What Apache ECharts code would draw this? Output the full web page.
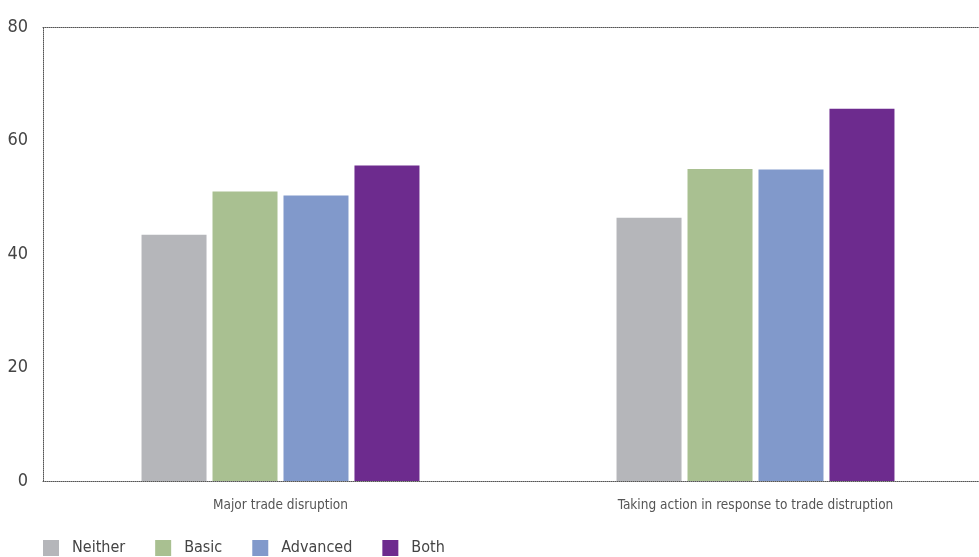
<!DOCTYPE html>
<html><head><meta charset="utf-8">
<script src="https://cdn.jsdelivr.net/npm/echarts@6/dist/echarts.min.js"></script>
<style>html,body{margin:0;padding:0;background:#fff}#c{width:979px;height:557px}</style>
</head><body><div id="c"></div>
<script>
const categories = ['Major trade disruption', 'Taking action in response to trade distruption'];
const seriesNames = ['Neither', 'Basic', 'Advanced', 'Both'];
const neither = [43.4, 46.4];
const basic = [51.0, 55.0];
const advanced = [50.3, 54.9];
const both = [55.6, 65.6];
const yTicks = [0, 20, 40, 60, 80];
const colors = ['#b5b6ba', '#a9c091', '#8199cb', '#6d2b8e'];
const values = [neither, basic, advanced, both];
const FONT = "'DejaVu Sans Condensed', 'Liberation Sans Narrow', sans-serif";

const chart = echarts.init(document.getElementById('c'), null, {renderer: 'canvas'});
chart.setOption({
  animation: false,
  color: colors,
  grid: {left: 43, top: 27, width: 950, height: 454, containLabel: false, outerBoundsMode: 'none'},
  legend: {
    left: 38, top: 535, itemWidth: 16, itemHeight: 16, itemGap: 30, icon: 'rect',
    textStyle: {fontFamily: FONT, fontSize: 16, color: '#444', padding: [0, 0, 0, 8]},
    data: seriesNames
  },
  xAxis: [{
    type: 'category', data: categories,
    axisLine: {lineStyle: {color: '#555', type: [1, 1], width: 1}},
    axisTick: {show: false},
    axisLabel: {fontFamily: FONT, fontSize: 13.5, color: '#555', margin: 17}
  }, {
    type: 'category', position: 'top', data: categories,
    axisLine: {lineStyle: {color: '#555', type: [1, 1], width: 1}},
    axisTick: {show: false}, axisLabel: {show: false}
  }],
  yAxis: {
    type: 'value', min: yTicks[0], max: yTicks[yTicks.length - 1], interval: 20,
    axisLine: {show: true, lineStyle: {color: '#555', type: [1, 1], width: 1}},
    axisTick: {show: false},
    splitLine: {show: false},
    axisLabel: {fontFamily: FONT, fontSize: 18, color: '#444', margin: 15}
  },
  series: seriesNames.map((n, i) => ({
    name: n, type: 'bar', data: values[i], barWidth: 65, barGap: '9.2%'
  }))
});
</script></body></html>
